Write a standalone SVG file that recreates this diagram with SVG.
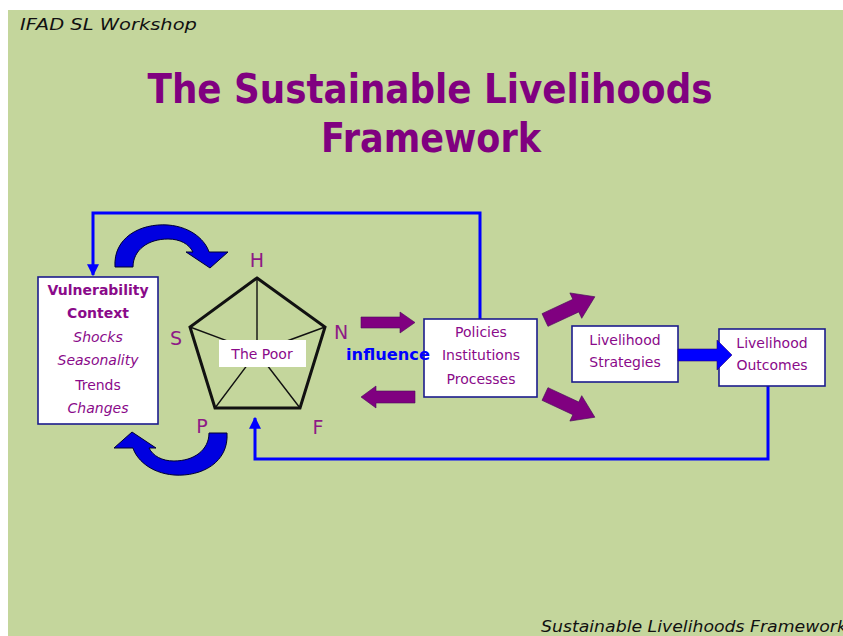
<svg xmlns="http://www.w3.org/2000/svg" width="843" height="636" viewBox="0 0 843 636">
<style>
.bg{fill:#c4d69c}
.box{fill:#ffffff;stroke:#1c1c8c;stroke-width:1.6}
.bt{font-family:"DejaVu Sans","Liberation Sans",sans-serif;font-size:14px;fill:#8a0a8a;text-anchor:middle}
.lbl{font-family:"DejaVu Sans","Liberation Sans",sans-serif;font-size:19px;fill:#8e1a86;text-anchor:middle}
.title{font-family:"DejaVu Sans","Liberation Sans",sans-serif;font-weight:bold;font-size:40px;fill:#800080;text-anchor:middle}
.corner{font-family:"DejaVu Sans","Liberation Sans",sans-serif;font-style:italic;font-size:16px;fill:#111111}
.conn{fill:none;stroke:#0000ff;stroke-width:3}
.purp{fill:#800080;stroke:#4a0a5a;stroke-width:0.6}
.curve{fill:#0000e0;stroke:#000033;stroke-width:1}
</style>
<defs>
<marker id="ah" viewBox="0 0 10 10" refX="9" refY="5" markerWidth="4" markerHeight="4" orient="auto" markerUnits="strokeWidth">
<path d="M0,0 L10,5 L0,10 Z" fill="#0000ff"/>
</marker>
<path id="curv" d="M115,267 C113,238 140,223 168,225 C193,227 206,242 209,252 L228,252 L210,268 L186,252 L193,252 C189,244 180,239 168,239 C148,239 133,250 133,267 Z"/>
<path id="blk" d="M0,-7 L34,-7 L34,-14 L55,0 L34,14 L34,7 L0,7 Z"/>
</defs>
<rect class="bg" x="8" y="10" width="835" height="626"/>
<text class="corner" x="20" y="30" textLength="177" lengthAdjust="spacingAndGlyphs">IFAD SL Workshop</text>
<text class="title" x="430" y="103" textLength="565" lengthAdjust="spacingAndGlyphs">The Sustainable Livelihoods</text>
<text class="title" x="431" y="152" textLength="220" lengthAdjust="spacingAndGlyphs">Framework</text>

<g id="connectors">
<polyline class="conn" points="480,319 480,213 93,213 93,275" marker-end="url(#ah)"/>
<polyline class="conn" points="768,386 768,459 255,459 255,418" marker-end="url(#ah)"/>
<use href="#curv" class="curve"/>
<use href="#curv" class="curve" transform="rotate(180 171 350)"/>
<path class="purp" d="M361,317 L400,317 L400,312 L415,322.5 L400,333 L400,328 L361,328 Z"/>
<path class="purp" d="M415,391 L376,391 L376,386 L361,397 L376,408 L376,403 L415,403 Z"/>
<use href="#blk" class="purp" transform="translate(545,320) rotate(-25)"/>
<use href="#blk" class="purp" transform="translate(545,394) rotate(25)"/>
</g>

<g id="vulnerability">
<rect class="box" x="38" y="277" width="120" height="147"/>
<text class="bt" x="98" y="295" font-weight="bold">Vulnerability</text>
<text class="bt" x="98" y="318" font-weight="bold">Context</text>
<text class="bt" x="98" y="342" font-style="italic">Shocks</text>
<text class="bt" x="98" y="365" font-style="italic">Seasonality</text>
<text class="bt" x="98" y="390">Trends</text>
<text class="bt" x="98" y="413" font-style="italic">Changes</text>
</g>

<g id="assets">
<path d="M257,352 L257,278 M257,352 L190,327 M257,352 L325,327 M257,352 L215,408 M257,352 L300,408" stroke="#111" stroke-width="1.4" fill="none"/>
<polygon points="257,278 325,327 300,408 215,408 190,327" fill="none" stroke="#111" stroke-width="3" stroke-linejoin="miter"/>
<rect x="219" y="340" width="87" height="27" fill="#ffffff"/>
<text class="bt" x="262" y="359">The Poor</text>
<text class="lbl" x="257" y="267">H</text>
<text class="lbl" x="176" y="345">S</text>
<text class="lbl" x="341" y="339">N</text>
<text class="lbl" x="202" y="433">P</text>
<text class="lbl" x="318" y="434">F</text>
</g>

<g id="pip">
<rect class="box" x="424" y="319" width="113" height="78"/>
<text class="bt" x="481" y="337">Policies</text>
<text class="bt" x="481" y="360">Institutions</text>
<text class="bt" x="481" y="384">Processes</text>
</g>
<text x="388" y="360" font-family="DejaVu Sans, Liberation Sans, sans-serif" font-weight="bold" font-size="15" fill="#0000ff" text-anchor="middle" textLength="84" lengthAdjust="spacingAndGlyphs">influence</text>

<g id="strategies">
<rect class="box" x="572" y="326" width="106" height="56"/>
<text class="bt" x="625" y="345">Livelihood</text>
<text class="bt" x="625" y="367">Strategies</text>
</g>

<g id="outcomes">
<rect class="box" x="719" y="329" width="106" height="57"/>
<text class="bt" x="772" y="348">Livelihood</text>
<text class="bt" x="772" y="370">Outcomes</text>
</g>
<path d="M678,349 L717,349 L717,340 L732,355 L717,370 L717,361 L678,361 Z" fill="#0000ff" stroke="#2a007a" stroke-width="0.6"/>

<text class="corner" x="541" y="632" font-size="17" textLength="306" lengthAdjust="spacingAndGlyphs">Sustainable Livelihoods Framework</text>
</svg>
